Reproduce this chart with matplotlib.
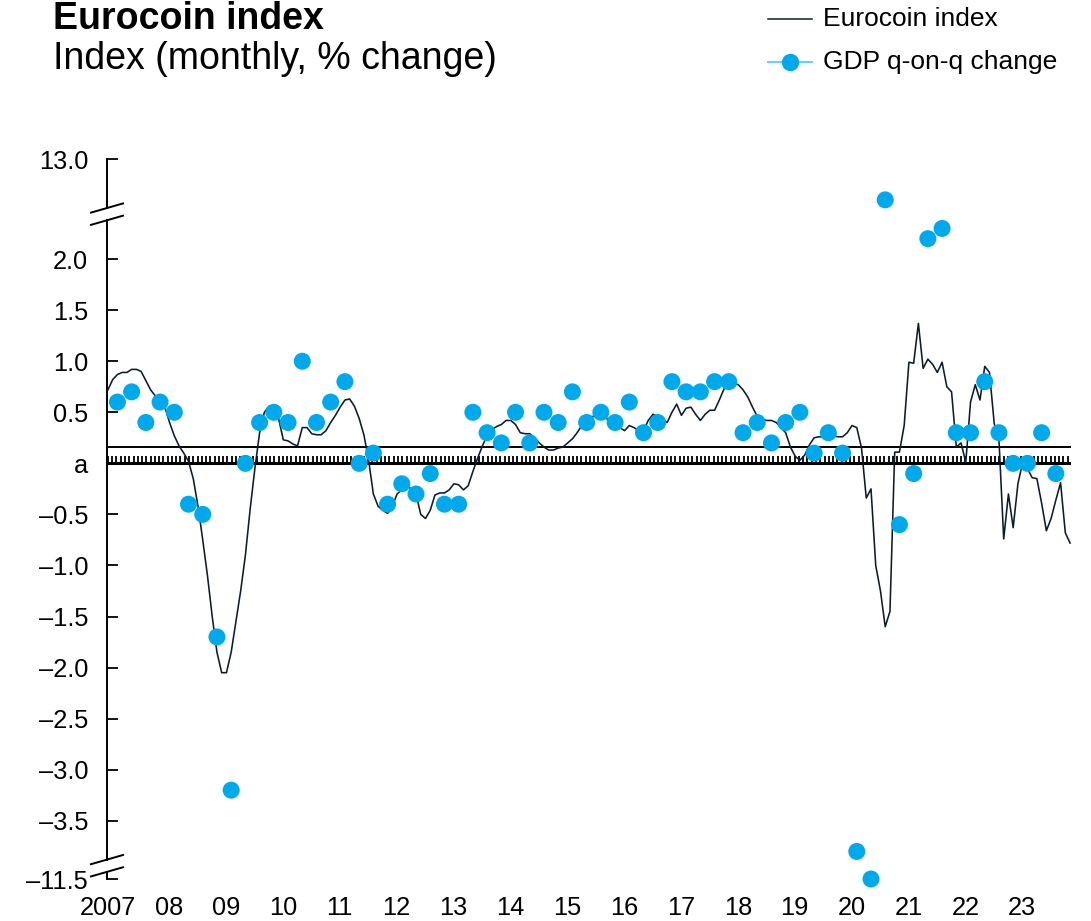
import numpy as np
import matplotlib
matplotlib.use("Agg")
import matplotlib.pyplot as plt
from matplotlib.lines import Line2D

plt.rcParams['font.family'] = ['Liberation Sans', 'DejaVu Sans']

# ---- data -------------------------------------------------------------
# Eurocoin, monthly, Jan 2007 .. Dec 2023
eurocoin = [
    0.72, 0.82, 0.87, 0.89, 0.89, 0.92, 0.92, 0.90, 0.81, 0.72, 0.66, 0.63,   # 2007
    0.55, 0.40, 0.27, 0.17, 0.10, 0.02, -0.15, -0.42, -0.75, -1.10, -1.50, -1.85,  # 2008
    -2.05, -2.05, -1.85, -1.55, -1.25, -0.90, -0.45, -0.05, 0.30, 0.50, 0.56, 0.55,  # 2009
    0.44, 0.23, 0.22, 0.19, 0.17, 0.35, 0.35, 0.29, 0.28, 0.28, 0.32, 0.40,   # 2010
    0.47, 0.55, 0.62, 0.63, 0.56, 0.44, 0.28, 0.03, -0.30, -0.42, -0.46, -0.49,  # 2011
    -0.42, -0.30, -0.26, -0.22, -0.25, -0.30, -0.50, -0.54, -0.46, -0.31, -0.29, -0.29,  # 2012
    -0.26, -0.20, -0.21, -0.26, -0.22, -0.08, 0.05, 0.17, 0.27, 0.33, 0.36, 0.38,  # 2013
    0.42, 0.42, 0.38, 0.30, 0.29, 0.29, 0.25, 0.20, 0.16, 0.13, 0.13, 0.15,   # 2014
    0.16, 0.20, 0.24, 0.30, 0.37, 0.43, 0.45, 0.48, 0.50, 0.45, 0.40, 0.37,   # 2015
    0.35, 0.32, 0.37, 0.35, 0.32, 0.32, 0.42, 0.48, 0.46, 0.43, 0.40, 0.50,   # 2016
    0.58, 0.47, 0.54, 0.55, 0.48, 0.42, 0.48, 0.52, 0.52, 0.62, 0.73, 0.77,   # 2017
    0.78, 0.77, 0.72, 0.65, 0.55, 0.46, 0.43, 0.42, 0.42, 0.40, 0.35, 0.30,   # 2018
    0.16, 0.07, 0.03, 0.08, 0.18, 0.25, 0.26, 0.26, 0.25, 0.27, 0.26, 0.26,   # 2019
    0.30, 0.37, 0.35, 0.15, -0.34, -0.25, -1.00, -1.25, -1.60, -1.45, 0.11, 0.11,  # 2020
    0.37, 0.99, 0.98, 1.37, 0.93, 1.02, 0.97, 0.89, 0.99, 0.75, 0.70, 0.16,   # 2021
    0.20, 0.01, 0.60, 0.77, 0.62, 0.95, 0.89, 0.39, 0.23, -0.74, -0.30, -0.63,  # 2022
    -0.20, 0.01, -0.05, -0.14, -0.15, -0.39, -0.66, -0.54, -0.36, -0.19, -0.68, -0.78,  # 2023
]

# GDP q-on-q change, 2007Q1 .. 2023Q3
gdp = [
    0.6, 0.7, 0.4, 0.6,
    0.5, -0.4, -0.5, -1.7,
    -3.2, 0.0, 0.4, 0.5,
    0.4, 1.0, 0.4, 0.6,
    0.8, 0.0, 0.1, -0.4,
    -0.2, -0.3, -0.1, -0.4,
    -0.4, 0.5, 0.3, 0.2,
    0.5, 0.2, 0.5, 0.4,
    0.7, 0.4, 0.5, 0.4,
    0.6, 0.3, 0.4, 0.8,
    0.7, 0.7, 0.8, 0.8,
    0.3, 0.4, 0.2, 0.4,
    0.5, 0.1, 0.3, 0.1,
    -3.8, -11.5, 12.6, -0.6,
    -0.1, 2.2, 2.3, 0.3,
    0.3, 0.8, 0.3, 0.0,
    0.0, 0.3, -0.1,
]

years = list(range(2007, 2024))
year_labels = ["2007"] + ["%02d" % (y % 100) for y in years[1:]]

ytick_vals = [13.0, 2.0, 1.5, 1.0, 0.5, 0.0, -0.5, -1.0, -1.5, -2.0, -2.5, -3.0, -3.5, -11.5]
ytick_labels = ["13.0", "2.0", "1.5", "1.0", "0.5", "a", "–0.5", "–1.0", "–1.5",
                "–2.0", "–2.5", "–3.0", "–3.5", "–11.5"]

# ---- broken y scale ----------------------------------------------------
TOP_SHIFT = 10.02
BOT_SHIFT = 7.43


def squash(v):
    v = np.asarray(v, dtype=float)
    out = v.copy()
    out[v > 5] = v[v > 5] - TOP_SHIFT
    out[v < -5] = v[v < -5] + BOT_SHIFT
    return out


DARK = "#0b1c2e"
BLUE = "#00a9ec"

fig = plt.figure(figsize=(10.91, 9.21), dpi=100)
W, H = 1091, 921
ax = fig.add_axes([107 / W, 1 - 879 / H, (1071 - 107) / W, (879 - 159) / H])

months = np.arange(len(eurocoin))
q_months = np.arange(len(gdp)) * 3 + 2

ax.set_xlim(-0.2, len(eurocoin) - 0.8)
ax.set_ylim(-4.07, 2.98)

# zero axis with monthly hatch and the line just above it
ax.axhline(0.16, color="black", lw=1.4, zorder=2)
ax.vlines(np.arange(0, len(eurocoin), 0.9), 0.0, 0.075, color="black", lw=1.3, zorder=2)
ax.axhline(0.0, color="black", lw=2.2, zorder=2)

ax.plot(months, eurocoin, color=DARK, lw=1.15, zorder=3)
ax.scatter(q_months, squash(gdp), s=150, color=BLUE, edgecolor="none", zorder=4, clip_on=False)

# axes styling
for s in ["top", "right", "bottom", "left"]:
    ax.spines[s].set_visible(False)

ax.set_yticks(squash(ytick_vals))
ax.set_yticklabels(ytick_labels)
ax.tick_params(axis="y", direction="in", length=8, width=1.3, labelsize=18.3, pad=13.5)

ax.set_xticks([0] + [12 * k + 0.9 for k in range(1, len(years))])
ax.set_xticklabels(year_labels)
ax.tick_params(axis="x", length=0, labelsize=18.3, pad=12)

# broken left spine
tr = ax.get_yaxis_transform()
up_gap = (2.50, 2.38)
lo_gap = (-3.88, -4.00)
for y0, y1 in [(2.98, up_gap[0]), (up_gap[1], lo_gap[0]), (lo_gap[1], -4.07)]:
    ax.plot([0, 0], [y0, y1], color="black", lw=1.4, transform=tr, clip_on=False)
for yc in list(up_gap) + list(lo_gap):
    ax.plot([-0.0166, 0.0166], [yc - 0.045, yc + 0.045], color="black", lw=1.4,
            transform=tr, clip_on=False)

# titles
fig.text(53 / W, 1 - 29 / H, "Eurocoin index", fontsize=27, fontweight="bold",
         va="baseline", ha="left")
fig.text(53 / W, 1 - 69 / H, "Index (monthly, % change)", fontsize=27,
         va="baseline", ha="left")

# legend
for yy, txt, style in [(19, "Eurocoin index", "line"), (62, "GDP q-on-q change", "dot")]:
    fy = 1 - yy / H
    if style == "line":
        fig.add_artist(Line2D([768 / W, 812 / W], [fy, fy], color=DARK, lw=1.1))
    else:
        fig.add_artist(Line2D([768 / W, 812 / W], [fy, fy], color="#6fd0f6", lw=1.5))
        fig.add_artist(Line2D([790 / W], [fy], marker="o", markersize=12.5,
                              color=BLUE, markeredgewidth=0))
    fig.text(823 / W, fy, txt, fontsize=19, va="center", ha="left")

fig.savefig("out.png", dpi=100)
